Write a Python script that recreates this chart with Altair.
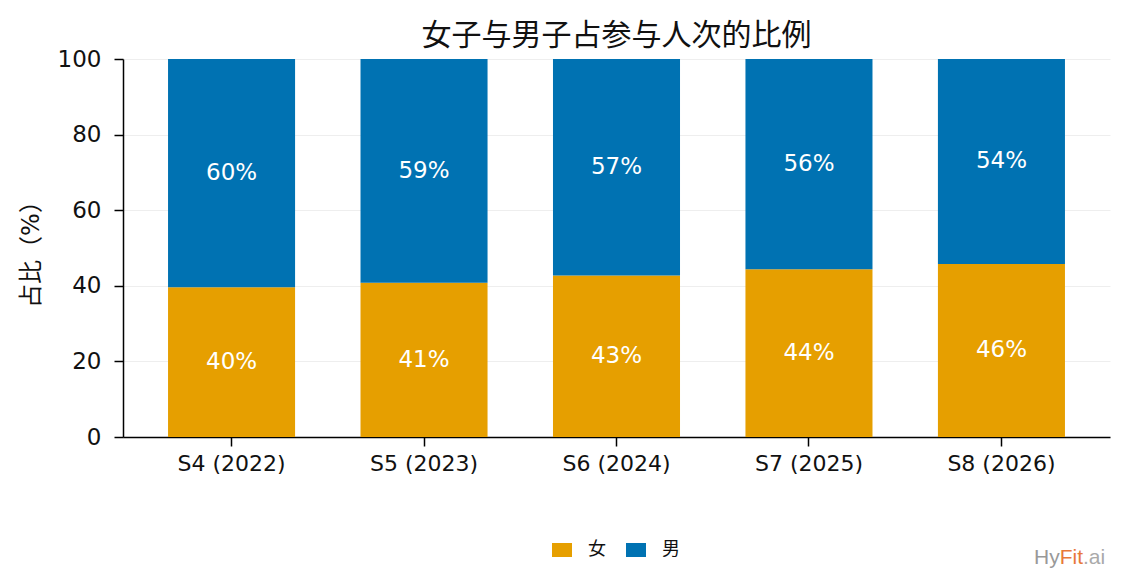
import altair as alt
import pandas as pd

seasons = ["S4 (2022)", "S5 (2023)", "S6 (2024)", "S7 (2025)", "S8 (2026)"]
female = [39.6, 40.8, 42.7, 44.4, 45.8]
male = [60.4, 59.2, 57.3, 55.6, 54.2]
genders = ["女", "男"]
colors = ["#E69F00", "#0072B2"]

rows = []
for s, f, m in zip(seasons, female, male):
    rows.append({"season": s, "gender": "女", "value": f, "ord": 0})
    rows.append({"season": s, "gender": "男", "value": m, "ord": 1})
df = pd.DataFrame(rows)

FONT = "DejaVu Sans, Noto Sans CJK JP"
CJK = "Noto Sans CJK JP"

x_enc = alt.X("season:N", sort=seasons, title=None,
              scale=alt.Scale(paddingInner=0.34, paddingOuter=0.234),
              axis=alt.Axis(labelAngle=0, labelFontSize=22, labelColor="#111",
                            tickSize=9, tickColor="#000", tickWidth=1.5,
                            domainColor="#000", domainWidth=1.5, labelPadding=7,
                            grid=False, labelFont=FONT))

bars = alt.Chart(df).mark_bar().encode(
    x=x_enc,
    y=alt.Y("value:Q", stack="zero", title="占比（%）",
            scale=alt.Scale(domain=[0, 100], nice=False),
            axis=alt.Axis(values=[0, 20, 40, 60, 80, 100], labelFontSize=23,
                          labelColor="#111", tickSize=9, tickColor="#000", tickWidth=1.5,
                          domainColor="#000", domainWidth=1.5, gridColor="#eeeeee",
                          gridWidth=1, titleFontSize=24, titleFontWeight="normal",
                          titleColor="#111", titlePadding=14, labelPadding=13,
                          labelFont=FONT, titleFont=FONT)),
    color=alt.Color("gender:N", scale=alt.Scale(domain=genders, range=colors),
                    legend=alt.Legend(title=None, orient="none", direction="horizontal",
                                      legendX=429, legendY=481,
                                      symbolType="M-1,-0.7H1V0.7H-1Z", symbolSize=400,
                                      symbolStrokeWidth=0, symbolOpacity=1,
                                      labelFontSize=18, labelFont=CJK, labelColor="#111",
                                      labelOffset=16, columnPadding=20)),
    order=alt.Order("ord:Q", sort="ascending"),
)

labels = alt.Chart(df).transform_stack(
    stack="value", groupby=["season"], as_=["v0", "v1"],
    sort=[alt.SortField("ord", order="ascending")]
).transform_calculate(
    mid="(datum.v0 + datum.v1) / 2",
    lab="format(datum.value, '.0f') + '%'"
).mark_text(color="white", fontSize=23, font=FONT, baseline="middle").encode(
    x=alt.X("season:N", sort=seasons),
    y=alt.Y("mid:Q"),
    text="lab:N",
)

wm_df = pd.DataFrame({"t": ["HyFit.ai"]})
wm_hy = alt.Chart(wm_df).mark_text(text="Hy", color="#999999", fontSize=21,
                                   font="Liberation Sans", align="left",
                                   baseline="alphabetic").encode(
    x=alt.value(911), y=alt.value(505))
wm_fit = alt.Chart(wm_df).mark_text(text="Fit", color="#E8793A", fontSize=21,
                                    font="Liberation Sans", align="left",
                                    baseline="alphabetic").encode(
    x=alt.value(936.7), y=alt.value(505))
wm_ai = alt.Chart(wm_df).mark_text(text=".ai", color="#aaaaaa", fontSize=21,
                                   font="Liberation Sans", align="left",
                                   baseline="alphabetic").encode(
    x=alt.value(960), y=alt.value(505))

chart = alt.layer(bars, labels, wm_hy, wm_fit, wm_ai).properties(
    width=987, height=378,
    title=alt.TitleParams("女子与男子占参与人次的比例", fontSize=30, font=CJK,
                          fontWeight="normal", color="#111", offset=-3, anchor="middle"),
    autosize=alt.AutoSizeParams(type="none"),
    padding={"left": 115, "top": 51, "right": 9, "bottom": 139},
).configure_view(stroke=None)

chart.save("out.html", embed_options={"renderer": "svg", "actions": False})
